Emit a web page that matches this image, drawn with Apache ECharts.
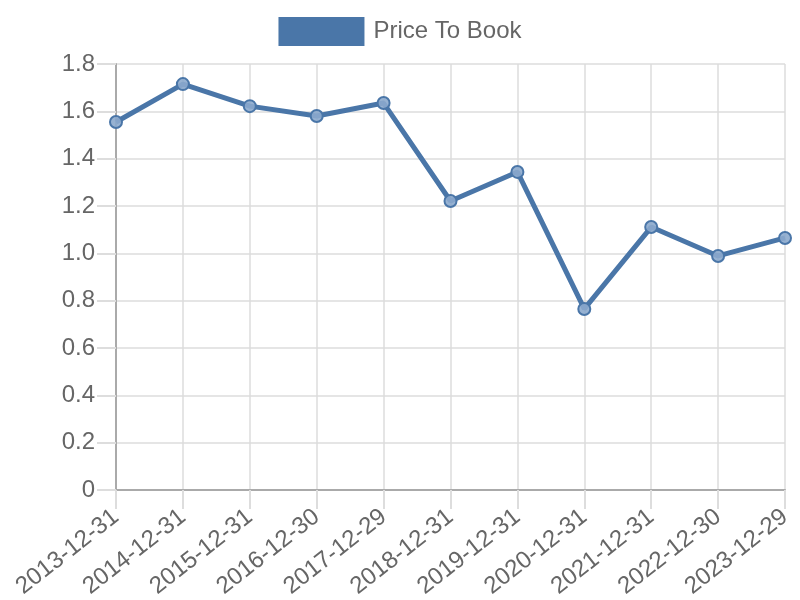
<!DOCTYPE html>
<html><head><meta charset="utf-8">
<script src="https://cdn.jsdelivr.net/npm/echarts@6/dist/echarts.min.js"></script>
<style>html,body{margin:0;padding:0;background:#fff}#c{width:800px;height:600px}</style>
</head><body><div id="c"></div>
<script>
const categories = ["2013-12-31","2014-12-31","2015-12-31","2016-12-30","2017-12-29","2018-12-31","2019-12-31","2020-12-31","2021-12-31","2022-12-30","2023-12-29"];
const priceToBook = [1.555, 1.715, 1.622, 1.580, 1.635, 1.221, 1.344, 0.765, 1.111, 0.989, 1.065];
const seriesName = "Price To Book";
const yTicks = {min: 0, max: 1.8, interval: 0.2};

const chart = echarts.init(document.getElementById('c'), null, {renderer: 'canvas'});
const font = '"Liberation Sans", Arial, sans-serif';
chart.setOption({
  animation: false,
  textStyle: {fontFamily: font},
  legend: {
    top: 12, left: 'center',
    itemWidth: 86, itemHeight: 29, itemGap: 10,
    icon: 'rect',
    textStyle: {fontSize: 24, color: '#666', fontFamily: font, padding: [0,0,0,4]},
    data: [{name: seriesName, icon: 'rect', itemStyle: {color: '#4a76a8', borderWidth: 0}}]
  },
  grid: {left: 116, right: 15, top: 64, bottom: 110, containLabel: false, outerBoundsMode: 'none'},
  xAxis: {
    type: 'category', data: categories, boundaryGap: false,
    axisLine: {lineStyle: {color: '#aaa', width: 2}},
    axisTick: {show: true, length: 19, lineStyle: {color: '#ddd', width: 2}},
    splitLine: {show: true, lineStyle: {color: '#ddd', width: 1.5}},
    axisLabel: {rotate: 38, fontSize: 24, color: '#666', margin: 24, fontFamily: font, interval: 0}
  },
  yAxis: {
    type: 'value', min: yTicks.min, max: yTicks.max, interval: yTicks.interval,
    axisLine: {show: true, lineStyle: {color: '#aaa', width: 2}},
    axisTick: {show: true, length: 19, lineStyle: {color: '#ddd', width: 2}},
    splitLine: {show: true, lineStyle: {color: '#ddd', width: 1.5}},
    axisLabel: {fontSize: 24, color: '#666', margin: 21, fontFamily: font,
      formatter: v => (v === 0 ? '0' : v.toFixed(1))}
  },
  series: [{
    name: seriesName, type: 'line', data: priceToBook,
    symbol: 'circle', symbolSize: 12,
    lineStyle: {color: '#4a76a8', width: 5},
    itemStyle: {color: 'rgba(140,170,205,0.9)', borderColor: '#4a76a8', borderWidth: 2},
    z: 3
  }]
});
</script></body></html>
